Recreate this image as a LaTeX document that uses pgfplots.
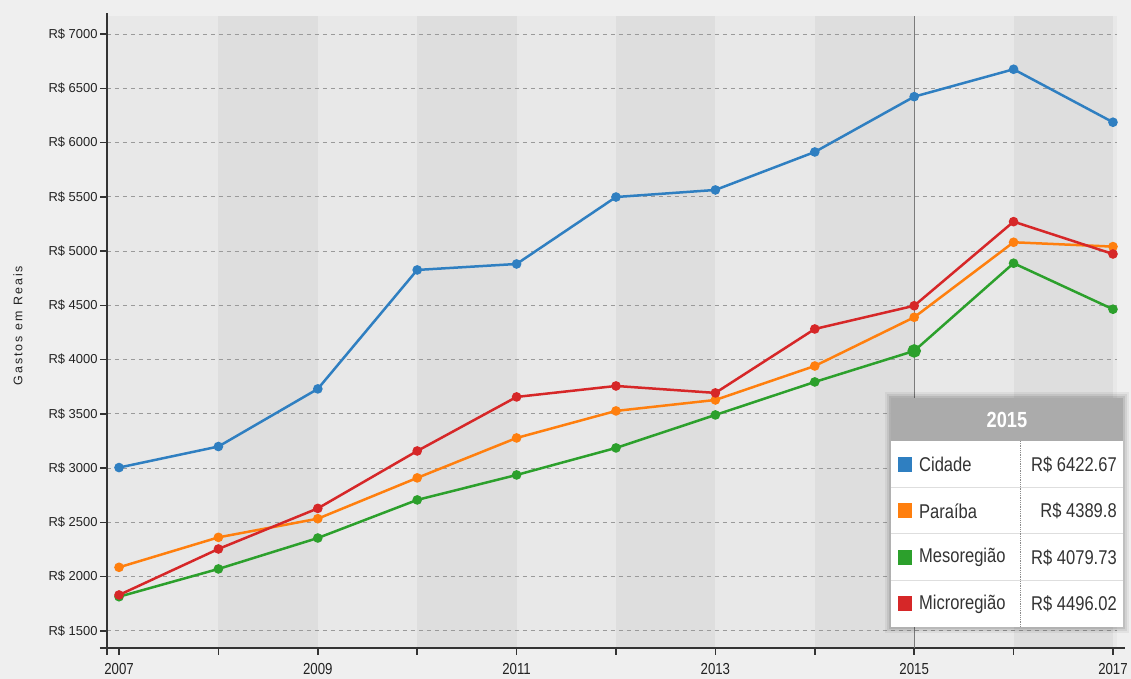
\documentclass[border=0pt]{standalone}
\usepackage{pgfplots}
\pgfplotsset{compat=1.18}
\usepackage{fontspec}
\setmainfont{Liberation Sans}
\newfontfamily\cond[FakeStretch=0.83]{Liberation Sans}
\newfontfamily\spaced[LetterSpace=16]{Liberation Sans}
\definecolor{bgout}{HTML}{EFEFEF}
\definecolor{bandlight}{HTML}{E8E8E8}
\definecolor{banddark}{HTML}{DEDEDE}
\definecolor{axisc}{HTML}{333333}
\definecolor{gridc}{HTML}{9A9A9A}
\definecolor{labelc}{HTML}{222222}
\definecolor{cblue}{HTML}{2F7FC1}
\definecolor{corange}{HTML}{FF7F0E}
\definecolor{cgreen}{HTML}{2CA02C}
\definecolor{cred}{HTML}{D62728}
\definecolor{ttext}{HTML}{333333}
\definecolor{thead}{HTML}{ABABAB}
\pgfplotsset{common/.style={
  at={(107bp,31bp)}, anchor=south west,
  scale only axis, width=1010bp, height=632bp,
  xmin=2006.879, xmax=2017.04, ymin=1343, ymax=7166}}
\begin{document}
\begin{tikzpicture}[x=1bp,y=1bp]
\fill[bgout] (0,0) rectangle (1131,679);
% background bands
\begin{axis}[common, hide axis]
\fill[bandlight] (axis cs:2006.879,1343) rectangle (axis cs:2017.04,7166);
\fill[banddark] (axis cs:2008,1343) rectangle (axis cs:2009,7166);
\fill[banddark] (axis cs:2010,1343) rectangle (axis cs:2011,7166);
\fill[banddark] (axis cs:2012,1343) rectangle (axis cs:2013,7166);
\fill[banddark] (axis cs:2014,1343) rectangle (axis cs:2015,7166);
\fill[banddark] (axis cs:2016,1343) rectangle (axis cs:2017,7166);
\end{axis}
\begin{axis}[
  common,
  axis x line=bottom, axis y line=left,
  axis line style={-, line width=2bp, draw=axisc},
  x axis line style={shorten <=-7bp, shorten >=-8bp},
  y axis line style={shorten <=-7bp, shorten >=-3bp},
  xtick={2007,2008,2009,2010,2011,2012,2013,2014,2015,2016,2017},
  xticklabels={2007,,2009,,2011,,2013,,2015,,2017},
  ytick={1500,2000,2500,3000,3500,4000,4500,5000,5500,6000,6500,7000},
  yticklabels={R\$ 1500,R\$ 2000,R\$ 2500,R\$ 3000,R\$ 3500,R\$ 4000,R\$ 4500,R\$ 5000,R\$ 5500,R\$ 6000,R\$ 6500,R\$ 7000},
  tick align=outside, major tick length=7bp,
  tick style={line width=1.5bp, draw=axisc},
  yticklabel style={font=\fontsize{13}{15}\selectfont, text=labelc, xshift=1bp},
  xticklabel style={font=\cond\fontsize{16}{18}\selectfont, text=labelc, yshift=-5bp},
  ymajorgrids,
  grid style={dash pattern=on 4bp off 4bp, draw=gridc, line width=1bp},
  ylabel={\spaced\fontsize{12.5}{14}\selectfont Gastos em Reais},
  ylabel style={at={(rel axis cs:-0.0881,0.51)}, anchor=center, text=labelc},
  every axis plot/.append style={line width=2.5bp, mark=*, mark size=3.5bp},
]
\draw[gridc!80!black, line width=1bp] (axis cs:2015,1343) -- (axis cs:2015,7166);
% Cidade
\addplot[color=cblue] coordinates {
(2007,3005) (2008,3199) (2009,3730) (2010,4826) (2011,4881) (2012,5498)
(2013,5563) (2014,5913) (2015,6422.67) (2016,6675) (2017,6187)};
% Paraiba
\addplot[color=corange] coordinates {
(2007,2086) (2008,2362) (2009,2534) (2010,2910) (2011,3278) (2012,3527)
(2013,3628) (2014,3941) (2015,4389.8) (2016,5081) (2017,5041)};
% Mesorregiao
\addplot[color=cgreen] coordinates {
(2007,1815) (2008,2071) (2009,2356) (2010,2707) (2011,2937) (2012,3186)
(2013,3490) (2014,3794) (2015,4079.73) (2016,4888) (2017,4464)};
% Microrregiao
\addplot[color=cred] coordinates {
(2007,1831) (2008,2255) (2009,2629) (2010,3158) (2011,3656) (2012,3757)
(2013,3693) (2014,4282) (2015,4496.02) (2016,5271) (2017,4973)};
% highlighted point
\addplot[color=cgreen, only marks, mark size=5.5bp] coordinates {(2015,4079.73)};
\end{axis}
% tooltip
\fill[black, opacity=0.05] (885,46) rectangle (1129,287);
\fill[black, opacity=0.07] (887,48) rectangle (1127,285);
\fill[black, opacity=0.09] (889,50) rectangle (1125,283);
\fill[white] (891,52) rectangle (1123,281);
\fill[thead] (891,238) rectangle (1123,281);
\node[text=white, font=\cond\bfseries\fontsize{22}{24}\selectfont] at (1007,259.5) {2015};
\draw[black!13, line width=1bp] (891,191) -- (1123,191);
\draw[black!13, line width=1bp] (891,145) -- (1123,145);
\draw[black!13, line width=1bp] (891,98) -- (1123,98);
\draw[black!45, line width=0.8bp, densely dotted] (1020,238) -- (1020,52);
\fill[cblue] (898,207) rectangle (912,222);
\fill[corange] (898,160.5) rectangle (912,175.5);
\fill[cgreen] (898,114) rectangle (912,129);
\fill[cred] (898,67.5) rectangle (912,82.5);
\begin{scope}[every node/.style={text=ttext, font=\cond\fontsize{20}{22}\selectfont, inner sep=0pt}]
\node[anchor=west] at (919,214.5) {Cidade};
\node[anchor=west] at (919,168) {Paraíba};
\node[anchor=west] at (919,121.5) {Mesoregião};
\node[anchor=west] at (919,75) {Microregião};
\node[anchor=east] at (1117,214.5) {R\$ 6422.67};
\node[anchor=east] at (1117,168) {R\$ 4389.8};
\node[anchor=east] at (1117,121.5) {R\$ 4079.73};
\node[anchor=east] at (1117,75) {R\$ 4496.02};
\end{scope}
\end{tikzpicture}
\end{document}
